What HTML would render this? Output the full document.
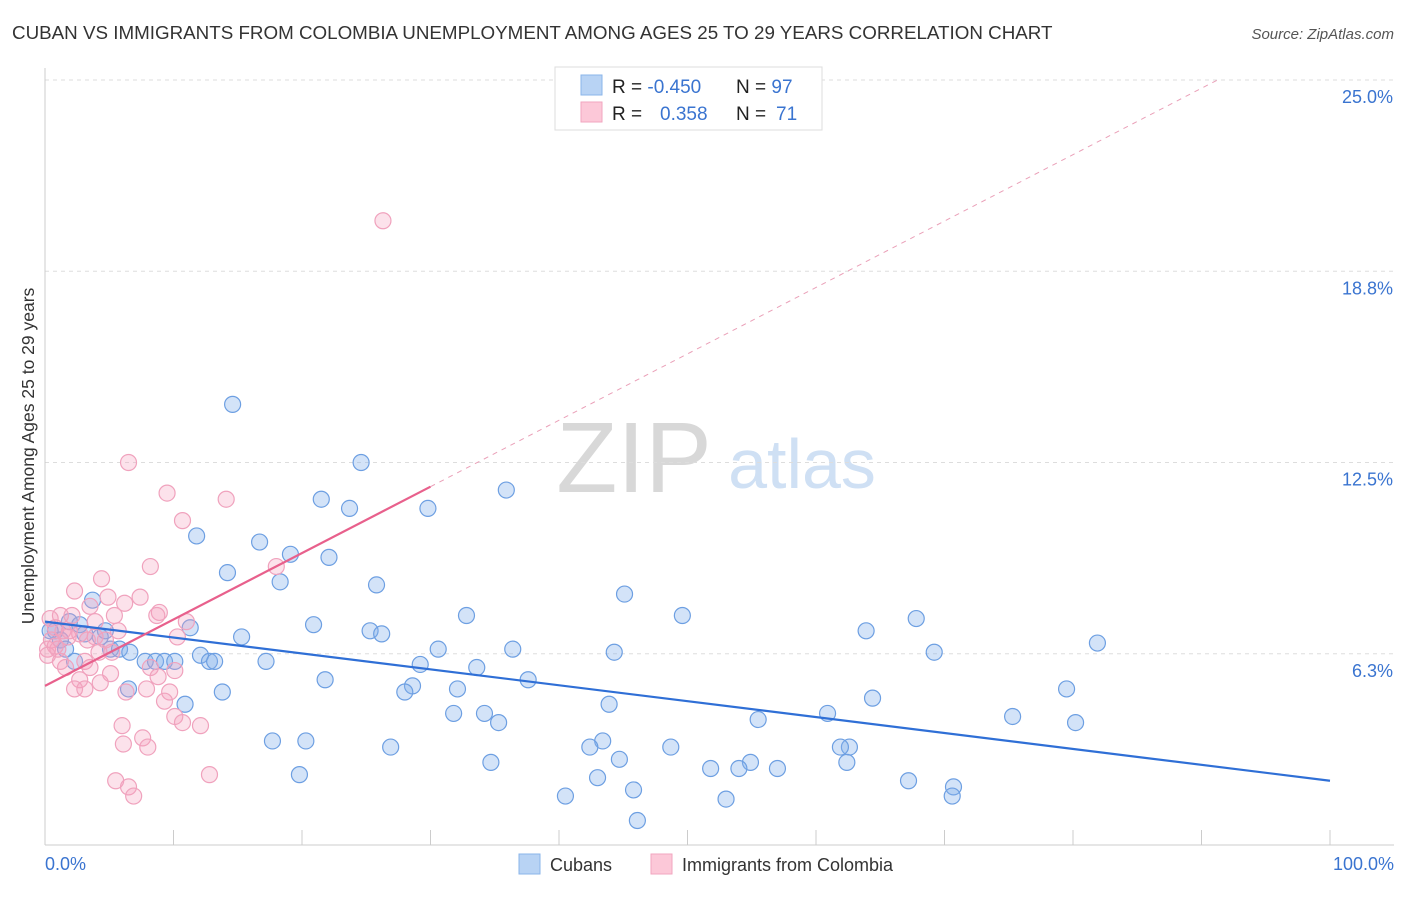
<!DOCTYPE html>
<html><head><meta charset="utf-8"><style>
body{margin:0;background:#fff;font-family:"Liberation Sans",sans-serif;}
svg text{font-family:"Liberation Sans",sans-serif;}
</style></head><body>
<svg id="chart" width="1406" height="892" xmlns="http://www.w3.org/2000/svg">
<text x="12" y="39" font-size="18.8" fill="#333">CUBAN VS IMMIGRANTS FROM COLOMBIA UNEMPLOYMENT AMONG AGES 25 TO 29 YEARS CORRELATION CHART</text>
<text x="1394" y="39" font-size="15" fill="#555" text-anchor="end" font-style="italic">Source: ZipAtlas.com</text>
<g>
<text x="634" y="492" font-size="100" fill="#d8d8d8" text-anchor="middle" font-family="Liberation Serif, serif">ZIP</text>
<text x="802" y="488" font-size="70" fill="#cfe0f4" text-anchor="middle">atlas</text>
</g>
<g id="grid"></g><g id="axes"></g><g id="marks"></g>
<text transform="translate(34,456) rotate(-90)" font-size="17.5" fill="#333" text-anchor="middle">Unemployment Among Ages 25 to 29 years</text>
<g>
<rect x="555" y="67" width="267" height="63" fill="#fff" stroke="#ddd"/>
<rect x="581" y="75" width="21" height="20" fill="#b8d3f4" stroke="#8ab4ea"/>
<rect x="581" y="102" width="21" height="20" fill="#fcc8d8" stroke="#f2a6bf"/>
<text x="612" y="93" font-size="19" fill="#222">R = <tspan fill="#3a74d0">-0.450</tspan></text>
<text x="736" y="93" font-size="19" fill="#222">N = <tspan fill="#3a74d0">97</tspan></text>
<text x="612" y="120" font-size="19" fill="#222">R = <tspan fill="#3a74d0" x="660">0.358</tspan></text>
<text x="736" y="120" font-size="19" fill="#222">N = <tspan fill="#3a74d0" x="776">71</tspan></text>
</g>
<g>
<rect x="519" y="854" width="21" height="20" fill="#b8d3f4" stroke="#8ab4ea"/>
<text x="550" y="871" font-size="18" fill="#333">Cubans</text>
<rect x="651" y="854" width="21" height="20" fill="#fcc8d8" stroke="#f2a6bf"/>
<text x="682" y="871" font-size="18" fill="#333">Immigrants from Colombia</text>
</g>
</svg>
<script>
const yTicks=[6.25,12.5,18.75,25];
const yTickLabels=["6.3%","12.5%","18.8%","25.0%"];
const xTickLabels=["0.0%","100.0%"];
const cubanX=[14.6,24.6,35.9,21.5,23.7,29.8,11.8,16.7,19.1,22.1,14.2,18.3,25.8,45.1,3.7,32.8,49.6,67.8,20.9,63.9,25.3,26.2,15.3,11.3,81.9,4.3,36.4,30.6,44.3,69.2,0.8,1.9,2.7,5.1,5.8,6.6,7.8,8.6,9.3,10.1,12.1,12.8,13.2,17.2,29.2,33.6,21.8,37.6,28.6,28.0,32.1,79.5,6.5,13.8,10.9,64.4,43.9,31.8,34.2,60.9,75.3,80.2,55.5,35.3,17.7,20.3,26.9,43.4,42.4,48.7,62.6,61.9,34.7,44.7,54.9,51.8,54.0,57.0,62.4,19.8,43.0,67.2,70.7,45.8,40.5,70.6,53.0,46.1,1.2,1.6,0.4,3.1,2.3,4.7];
const cubanY=[14.4,12.5,11.6,11.3,11.0,11.0,10.1,9.9,9.5,9.4,8.9,8.6,8.5,8.2,8.0,7.5,7.5,7.4,7.2,7.0,7.0,6.9,6.8,7.1,6.6,6.8,6.4,6.4,6.3,6.3,7.0,7.3,7.2,6.4,6.4,6.3,6.0,6.0,6.0,6.0,6.2,6.0,6.0,6.0,5.9,5.8,5.4,5.4,5.2,5.0,5.1,5.1,5.1,5.0,4.6,4.8,4.6,4.3,4.3,4.3,4.2,4.0,4.1,4.0,3.4,3.4,3.2,3.4,3.2,3.2,3.2,3.2,2.7,2.8,2.7,2.5,2.5,2.5,2.7,2.3,2.2,2.1,1.9,1.8,1.6,1.6,1.5,0.8,6.7,6.4,7.0,6.9,6.0,7.0];
const colX=[26.3,6.5,9.5,14.1,10.7,8.2,4.4,18.0,2.3,7.4,4.9,6.2,3.5,1.2,2.1,3.9,8.9,11.0,8.7,5.4,0.4,0.8,1.4,2.7,3.9,0.5,0.2,1.0,1.8,4.7,5.7,10.3,5.2,4.2,3.1,3.5,5.1,1.6,8.2,10.1,2.7,2.3,3.1,4.3,6.3,7.9,9.7,8.8,9.3,10.1,10.7,12.1,6.0,7.6,6.1,8.0,5.5,6.5,12.8,6.9,1.2,0.2,0.8,3.3,1.9];
const colY=[20.4,12.5,11.5,11.3,10.6,9.1,8.7,9.1,8.3,8.1,8.1,7.9,7.8,7.5,7.5,7.3,7.6,7.3,7.5,7.5,7.4,7.1,7.0,6.9,6.8,6.7,6.4,6.4,6.8,6.7,7.0,6.8,6.3,6.3,6.0,5.8,5.6,5.8,5.8,5.7,5.4,5.1,5.1,5.3,5.0,5.1,5.0,5.5,4.7,4.2,4.0,3.9,3.9,3.5,3.3,3.2,2.1,1.9,2.3,1.6,6.0,6.2,6.5,6.7,7.0];
const cubanFit=[7.3,2.1];
const colFit=[5.2,0.217];
const X=v=>45+v*12.85, Y=v=>845-v*30.6;
const NS="http://www.w3.org/2000/svg";
function mk(p,t,a){const e=document.createElementNS(NS,t);for(const k in a)e.setAttribute(k,a[k]);p.appendChild(e);return e;}
const grid=document.getElementById('grid'),axes=document.getElementById('axes'),marks=document.getElementById('marks');
yTicks.forEach((t,i)=>{
 const l=mk(grid,'line',{x1:45,x2:1394,y1:Y(t),y2:Y(t),stroke:'#ddd','stroke-dasharray':'4,4'});
 
 
 const tx=mk(axes,'text',{x:1393,y:Y(t)+23,'font-size':18,fill:'#3a74d0','text-anchor':'end'});
 tx.textContent=yTickLabels[i];
 
 
});
mk(axes,'line',{x1:45,x2:45,y1:68,y2:845,stroke:'#ccc'});
mk(axes,'line',{x1:45,x2:1394,y1:845,y2:845,stroke:'#ccc'});
for(let i=0;i<=10;i++){const t=mk(axes,'line',{x1:X(i*10),x2:X(i*10),y1:830,y2:845,stroke:'#ccc'});
 
 }
[[0,'start',45],[100,'end',1394]].forEach((d,i)=>{const t=mk(axes,'text',{x:d[2],y:870,'font-size':18,fill:'#3a74d0','text-anchor':d[1]});t.textContent=xTickLabels[i];
 
 });
cubanX.forEach((x,i)=>{const c=mk(marks,'circle',{cx:X(x),cy:Y(cubanY[i]),r:8,fill:'rgba(130,175,235,0.35)',stroke:'#6d9fe2','stroke-width':1.2});
 
 });
colX.forEach((x,i)=>{const c=mk(marks,'circle',{cx:X(x),cy:Y(colY[i]),r:8,fill:'rgba(245,160,190,0.3)',stroke:'#f0a2bd','stroke-width':1.2});
 
 });
const bl=mk(marks,'line',{x1:X(0),y1:Y(cubanFit[0]),x2:X(100),y2:Y(cubanFit[1]),stroke:'#2f6fd6','stroke-width':2.2});


const xe=(25-colFit[0])/colFit[1];
const pd=mk(marks,'line',{x1:X(30),y1:Y(colFit[0]+colFit[1]*30),x2:X(xe),y2:Y(25),stroke:'#eaa0b8','stroke-width':1,'stroke-dasharray':'5,5'});


const pl=mk(marks,'line',{x1:X(0),y1:Y(colFit[0]),x2:X(30),y2:Y(colFit[0]+colFit[1]*30),stroke:'#e8608c','stroke-width':2.2});


</script>
</body></html>
